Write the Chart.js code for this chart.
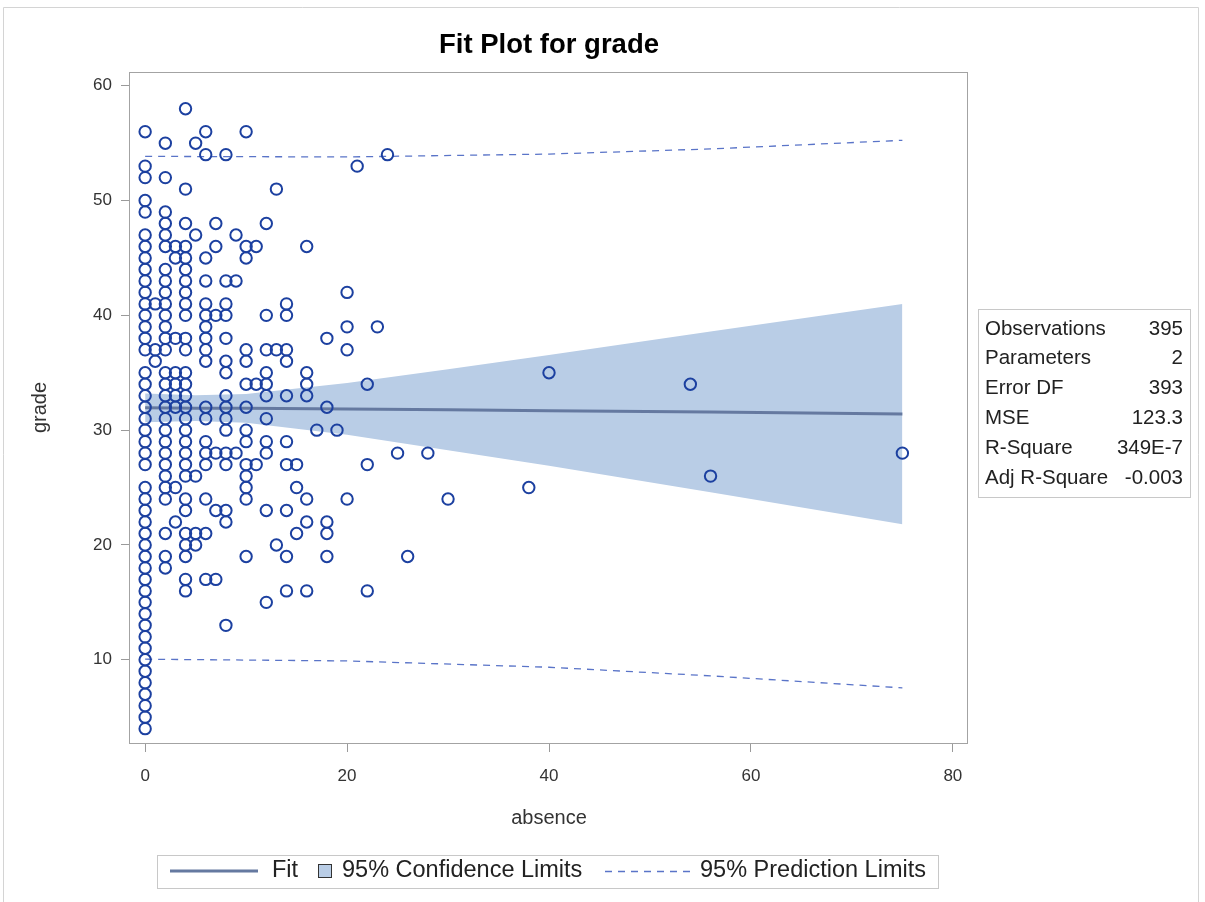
<!DOCTYPE html>
<html>
<head>
<meta charset="utf-8">
<title>Fit Plot for grade</title>
<script src="https://cdn.jsdelivr.net/npm/chart.js@4"></script>
<style>
  html, body { margin: 0; padding: 0; background: #fff; }
  #wrap { position: relative; width: 1205px; height: 902px; }
</style>
</head>
<body>
<div id="wrap"><canvas id="myChart" width="1205" height="902"></canvas></div>
<script>
    // observed grades, grouped by number of absences
    const absenceValues = [0, 1, 2, 3, 4, 5, 6, 7, 8, 9, 10, 11, 12, 13, 14, 15, 16, 17, 18, 19, 20, 21, 22, 23, 24, 25, 26, 28, 30, 38, 40, 54, 56, 75];
    const gradesByAbsence = [
      [4, 5, 6, 7, 8, 9, 10, 11, 12, 13, 14, 15, 16, 17, 18, 19, 20, 21, 22, 23, 24, 25, 27, 28, 29, 30, 31, 32, 33, 34, 35, 37, 38, 39, 40, 41, 42, 43, 44, 45, 46, 47, 49, 50, 52, 53, 56],
      [36, 37, 41],
      [55, 52, 49, 48, 47, 46, 44, 43, 42, 41, 40, 39, 38, 37, 35, 34, 33, 32, 31, 30, 29, 28, 27, 26, 25, 24, 21, 19, 18],
      [46, 45, 38, 35, 34, 33, 32, 25, 22],
      [58, 51, 48, 46, 45, 44, 43, 42, 41, 40, 38, 37, 35, 34, 33, 32, 31, 30, 29, 28, 27, 26, 24, 23, 21, 20, 19, 17, 16],
      [55, 47, 26, 21, 20],
      [56, 54, 45, 43, 41, 40, 39, 38, 37, 36, 32, 31, 29, 28, 27, 24, 21, 17],
      [48, 46, 40, 28, 23, 17],
      [54, 43, 41, 40, 38, 36, 35, 33, 32, 31, 30, 28, 27, 23, 22, 13],
      [47, 43, 28],
      [56, 46, 45, 37, 36, 34, 32, 30, 29, 27, 26, 25, 24, 19],
      [46, 34, 27],
      [48, 40, 37, 35, 34, 33, 31, 29, 28, 23, 15],
      [51, 37, 20],
      [41, 40, 37, 36, 33, 29, 27, 23, 19, 16],
      [27, 25, 21],
      [46, 35, 34, 33, 24, 22, 16],
      [30],
      [38, 32, 22, 21, 19],
      [30],
      [42, 39, 37, 24],
      [53],
      [34, 27, 16],
      [39],
      [54],
      [28],
      [19],
      [28],
      [24],
      [25],
      [35],
      [34],
      [26],
      [28]
    ];

    // fit, confidence and prediction limits
    const bandX = [0, 5, 10, 20, 30, 40, 56, 75];
    const fitY = [31.95, 31.92, 31.9, 31.85, 31.78, 31.7, 31.58, 31.4];
    const confUpper = [33.2, 33.05, 33.15, 34.1, 35.3, 36.55, 38.6, 41.0];
    const confLower = [30.7, 30.8, 30.65, 29.6, 28.25, 26.9, 24.6, 21.8];
    const predX = [0, 20, 40, 56, 75];
    const predUpper = [53.85, 53.8, 54.05, 54.5, 55.25];
    const predLower = [10.05, 9.9, 9.35, 8.6, 7.55];

    const statLabels = ['Observations', 'Parameters', 'Error DF', 'MSE', 'R-Square', 'Adj R-Square'];
    const statValues = ['395', '2', '393', '123.3', '349E-7', '-0.003'];

    const xTicks = [0, 20, 40, 60, 80];
    const yTicks = [10, 20, 30, 40, 50, 60];

    const FONT = "'Liberation Sans', Arial, Helvetica, sans-serif";
    const pts = (xs, ys) => xs.map((x, i) => ({ x: x, y: ys[i] }));

    const scatterPts = [];
    absenceValues.forEach((a, i) => {
      gradesByAbsence[i].forEach(g => scatterPts.push({ x: a, y: g }));
    });

    const data = {
      datasets: [
        {
          label: 'grade',
          data: scatterPts,
          pointStyle: 'circle',
          pointRadius: 5.7,
          pointBorderWidth: 2,
          pointBackgroundColor: 'rgba(0,0,0,0)',
          pointBorderColor: '#1c40a0',
          showLine: false,
          order: 0
        },
        {
          label: 'Fit',
          data: pts(bandX, fitY),
          showLine: true,
          borderColor: '#6579a0',
          borderWidth: 3,
          pointRadius: 0,
          order: 1
        },
        {
          label: 'Upper prediction',
          data: pts(predX, predUpper),
          showLine: true,
          borderColor: '#5a74c8',
          borderWidth: 1.3,
          borderDash: [7, 6],
          pointRadius: 0,
          order: 2
        },
        {
          label: 'Lower prediction',
          data: pts(predX, predLower),
          showLine: true,
          borderColor: '#5a74c8',
          borderWidth: 1.3,
          borderDash: [7, 6],
          pointRadius: 0,
          order: 2
        },
        {
          label: 'Lower confidence',
          data: pts(bandX, confLower),
          showLine: true,
          borderWidth: 0,
          borderColor: 'rgba(0,0,0,0)',
          pointRadius: 0,
          fill: false,
          order: 3
        },
        {
          label: 'Upper confidence',
          data: pts(bandX, confUpper),
          showLine: true,
          borderWidth: 0,
          borderColor: 'rgba(0,0,0,0)',
          backgroundColor: '#b9cde6',
          pointRadius: 0,
          fill: '-1',
          order: 3
        }
      ]
    };

    // title, plot frame, statistics table and legend
    const sasDecor = {
      id: 'sasDecor',
      beforeDraw(chart) {
        const ctx = chart.ctx;
        ctx.save();
        ctx.fillStyle = '#fff';
        ctx.fillRect(0, 0, chart.width, chart.height);
        ctx.restore();
      },
      afterDraw(chart) {
        const { ctx, chartArea: { top, bottom, left, right } } = chart;
        ctx.save();

        // outer frame
        ctx.strokeStyle = '#d4d4d4';
        ctx.lineWidth = 1;
        ctx.beginPath();
        ctx.moveTo(3.5, 902);
        ctx.lineTo(3.5, 7.5);
        ctx.lineTo(1198.5, 7.5);
        ctx.lineTo(1198.5, 902);
        ctx.stroke();

        // plot box
        ctx.strokeStyle = '#a3a3a3';
        ctx.strokeRect(Math.round(left) - 0.5, Math.round(top) + 0.5, Math.round(right - left), Math.round(bottom - top));

        // title
        ctx.fillStyle = '#000';
        ctx.font = 'bold 27.5px ' + FONT;
        ctx.textAlign = 'center';
        ctx.textBaseline = 'middle';
        ctx.fillText('Fit Plot for grade', 549, 45);

        // statistics table
        ctx.strokeStyle = '#c8c8c8';
        ctx.strokeRect(978.5, 309.5, 212, 188);
        ctx.font = '20.5px ' + FONT;
        ctx.fillStyle = '#222';
        statLabels.forEach((lab, i) => {
          const y = 329 + i * 29.8;
          ctx.textAlign = 'left';
          ctx.fillText(lab, 985, y);
          ctx.textAlign = 'right';
          ctx.fillText(statValues[i], 1183, y);
        });

        // legend
        const ly = 871;
        ctx.strokeStyle = '#c8c8c8';
        ctx.strokeRect(157.5, 855.5, 781, 33);
        ctx.strokeStyle = '#6579a0';
        ctx.lineWidth = 3;
        ctx.beginPath();
        ctx.moveTo(170, ly);
        ctx.lineTo(258, ly);
        ctx.stroke();
        ctx.fillStyle = '#b9cde6';
        ctx.fillRect(318.5, 864.5, 13, 13);
        ctx.strokeStyle = '#333';
        ctx.lineWidth = 1;
        ctx.strokeRect(318.5, 864.5, 13, 13);
        ctx.strokeStyle = '#5a74c8';
        ctx.lineWidth = 1.3;
        ctx.setLineDash([7, 6]);
        ctx.beginPath();
        ctx.moveTo(605, ly + 0.5);
        ctx.lineTo(690, ly + 0.5);
        ctx.stroke();
        ctx.setLineDash([]);
        ctx.font = '23.5px ' + FONT;
        ctx.fillStyle = '#222';
        ctx.textAlign = 'left';
        ctx.fillText('Fit', 272, ly);
        ctx.fillText('95% Confidence Limits', 342, ly);
        ctx.fillText('95% Prediction Limits', 700, ly);

        ctx.restore();
      }
    };

    const config = {
      type: 'scatter',
      data,
      options: {
        responsive: false,
        animation: false,
        layout: { padding: { left: 0, top: 72, right: 237, bottom: 69 } },
        plugins: {
          legend: { display: false },
          tooltip: { enabled: false },
          title: { display: false }
        },
        scales: {
          x: {
            type: 'linear',
            min: -1.5,
            max: 81.5,
            afterBuildTicks: (scale) => { scale.ticks = xTicks.map(v => ({ value: v })); },
            afterFit: (scale) => { scale.height = 90; },
            grid: { drawOnChartArea: false, drawTicks: true, tickLength: 9, color: '#9a9a9a' },
            border: { display: false },
            ticks: { color: '#333', font: { family: FONT, size: 17 }, padding: 14 },
            title: { display: true, text: 'absence', color: '#333', font: { family: FONT, size: 20 }, padding: { top: 0, bottom: 3 } }
          },
          y: {
            type: 'linear',
            min: 2.75,
            max: 61.2,
            afterBuildTicks: (scale) => { scale.ticks = yTicks.map(v => ({ value: v })); },
            afterFit: (scale) => { scale.width = 130; },
            grid: { drawOnChartArea: false, drawTicks: true, tickLength: 9, color: '#9a9a9a' },
            border: { display: false },
            ticks: { color: '#333', font: { family: FONT, size: 17 }, padding: 9 },
            title: { display: true, text: 'grade', color: '#333', font: { family: FONT, size: 20 }, padding: { top: 28, bottom: 0 } }
          }
        }
      },
      plugins: [sasDecor]
    };

    const myChart = new Chart(document.getElementById('myChart'), config);
</script>
</body>
</html>
